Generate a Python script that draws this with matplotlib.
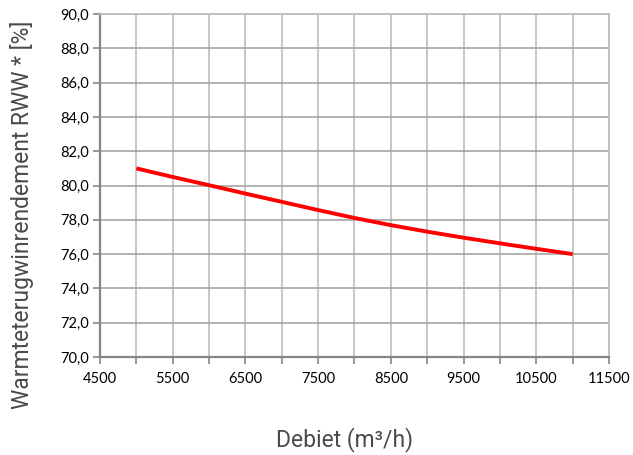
import matplotlib
matplotlib.use('Agg')
import matplotlib.pyplot as plt
from matplotlib.ticker import MultipleLocator, FuncFormatter

# data
debiet = [5000, 5500, 6000, 6500, 7000, 7500, 8000, 8500, 9000, 9500, 10000, 10500, 11000]
rendement = [81.0, 80.5, 80.02, 79.53, 79.05, 78.57, 78.11, 77.69, 77.31, 76.96, 76.63, 76.31, 76.0]

x_ticks = [4500, 5500, 6500, 7500, 8500, 9500, 10500, 11500]

plt.rcParams['font.family'] = ['Lato', 'DejaVu Sans']

fig = plt.figure(figsize=(6.33, 4.55), dpi=100)
ax = fig.add_axes([0.158, 0.2154, 0.804, 0.7536])

ax.plot(debiet, rendement, color='#ff0000', linewidth=2.8, solid_capstyle='butt',
        solid_joinstyle='round', zorder=3)

ax.set_xlim(4500, 11500)
ax.set_ylim(70, 90)
ax.set_xticks(x_ticks)
ax.xaxis.set_minor_locator(MultipleLocator(500))
ax.yaxis.set_major_locator(MultipleLocator(2))
ax.yaxis.set_major_formatter(FuncFormatter(lambda v, p: f'{v:.1f}'.replace('.', ',')))

ax.grid(True, which='both', axis='x', color='#bdbdbd', linewidth=1.2)
ax.grid(True, which='major', axis='y', color='#a6a6a6', linewidth=1.2)
ax.set_axisbelow(True)

for s in ['top', 'right']:
    ax.spines[s].set_color('#bdbdbd')
    ax.spines[s].set_linewidth(1.2)
for s in ['left', 'bottom']:
    ax.spines[s].set_color('#868686')
    ax.spines[s].set_linewidth(1.6)

ax.tick_params(axis='x', which='both', length=5, width=1.2, color='#868686', labelsize=10.5, pad=6)
ax.tick_params(axis='y', which='major', length=5, width=1.2, color='#868686', labelsize=10.5, pad=3)

lab_font = dict(family=['Roboto', 'DejaVu Sans'], weight='normal', size=16.5, color='#4a4a4a')
ax.set_xlabel('Debiet (m³/h)', va='center', **lab_font)
ax.set_ylabel('Warmteterugwinrendement RWW * [%]', va='center', **lab_font)
ax.xaxis.set_label_coords(0.481, -0.242)
ax.yaxis.set_label_coords(-0.153, 0.414)

fig.savefig('out.png', dpi=100)
